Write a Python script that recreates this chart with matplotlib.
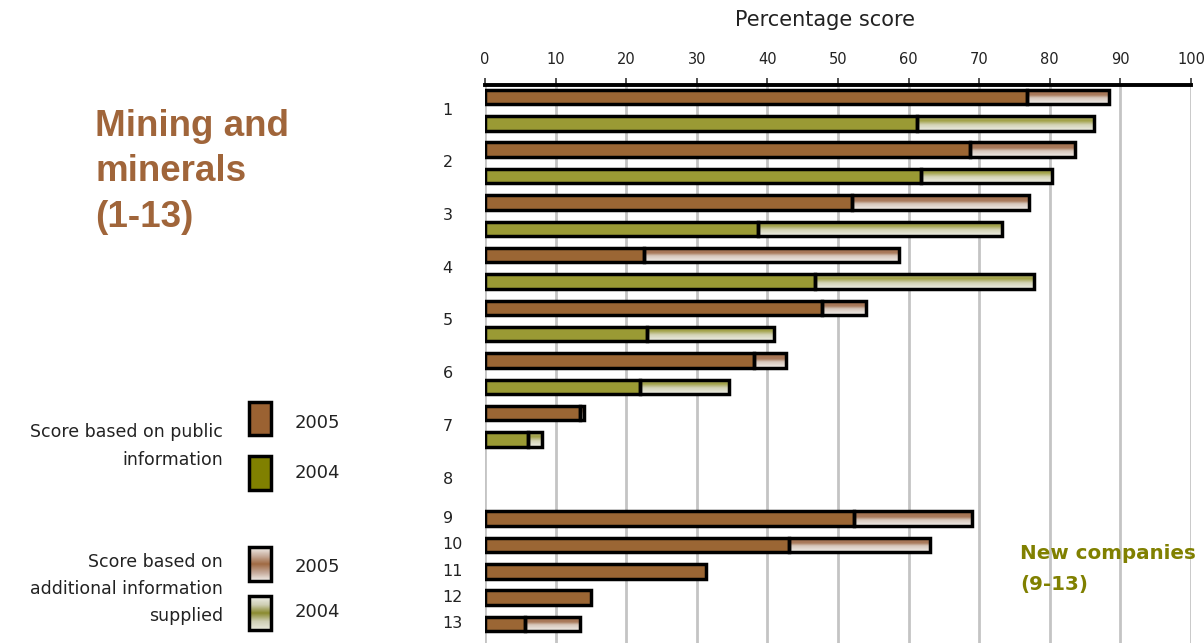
import numpy as np
import matplotlib
matplotlib.use("Agg")
import matplotlib.pyplot as plt
from matplotlib.patches import Rectangle
from matplotlib.colors import to_rgb

# Company numbers (1-8 scored in both years, 9-13 new in 2005)
companies = ["1", "2", "3", "4", "5", "6", "7", "8", "9", "10", "11", "12", "13"]
nan = np.nan

# 2005 scores: public information only, and total with additional information
public_2005 = [76.8, 68.7, 52.0, 22.5, 47.8, 38.1, 13.4, nan, 52.2, 43.0, 31.3, 15.0, 5.6]
total_2005 = [88.4, 83.6, 77.1, 58.7, 53.9, 42.6, 14.0, nan, 69.0, 63.1, 31.3, 15.0, 13.4]

# 2004 scores (only for companies 1-8)
public_2004 = [61.2, 61.7, 38.6, 46.7, 23.0, 21.9, 6.1, nan, nan, nan, nan, nan, nan]
total_2004 = [86.3, 80.3, 73.3, 77.7, 40.9, 34.5, 8.1, nan, nan, nan, nan, nan, nan]

x_ticks = list(range(0, 101, 10))

W, H = 1204, 643
fig = plt.figure(figsize=(W / 100, H / 100), dpi=100)

BROWN = "#9B6634"
GREEN = "#9A9A34"
EDGE_LW = 2.5


def gradient(stops, n=40):
    pos = np.array([s[0] for s in stops])
    cols = np.array([to_rgb(s[1]) for s in stops])
    t = np.linspace(0, 1, n)
    img = np.stack([np.interp(t, pos, cols[:, k]) for k in range(3)], axis=1)
    return img[:, None, :]


grad_bar_2005 = gradient([(0, "#A06C48"), (0.4, "#AA7C5E"), (0.58, "#D6C6BA"), (1, "#F2EEEA")])
grad_bar_2004 = gradient([(0, "#B4B478"), (0.3, "#A0A044"), (0.58, "#D2D2B4"), (1, "#F0F0E8")])
grad_key_2005 = gradient([(0, "#F2EEEA"), (0.25, "#C8AE9E"), (0.5, "#A06A42"), (0.75, "#C4A898"), (1, "#F2EEEA")])
grad_key_2004 = gradient([(0, "#F0F0EA"), (0.25, "#CFCFB5"), (0.5, "#8A8A2E"), (0.75, "#CFCFB5"), (1, "#EAEADD")])

# ---- main bar panel ----
px_row = 26.35
row0_px = 97
top_px = 85
x0_px, x100_px = 485, 1191
ax = fig.add_axes([x0_px / W, 0, (x100_px - x0_px) / W, 1 - top_px / H])

h = 0.55


def draw_bar(row, pub, tot, color, grad):
    if np.isnan(pub):
        return
    ax.add_patch(Rectangle((0, row - h / 2), pub, h, facecolor=color,
                           edgecolor="black", lw=EDGE_LW, zorder=3))
    if tot > pub:
        ax.imshow(grad, extent=(pub, tot, row + h / 2, row - h / 2), origin="upper",
                  aspect="auto", interpolation="bilinear", zorder=2.9)
        ax.add_patch(Rectangle((pub, row - h / 2), tot - pub, h, facecolor="none",
                               edgecolor="black", lw=EDGE_LW, zorder=3))


for i, name in enumerate(companies):
    if i < 8:
        r05, r04 = 2 * i, 2 * i + 1
        label_y = 2 * i + 0.5
    else:
        r05, r04 = 16 + (i - 8), None
        label_y = r05
    draw_bar(r05, public_2005[i], total_2005[i], BROWN, grad_bar_2005)
    if r04 is not None:
        draw_bar(r04, public_2004[i], total_2004[i], GREEN, grad_bar_2004)
    ax.text(-6.0, label_y, name, ha="left", va="center", fontsize=11.5,
            color="#222222", clip_on=False)

ax.set_xlim(0, 100)
ax.set_ylim((H - row0_px) / px_row, (top_px - row0_px) / px_row)
ax.xaxis.tick_top()
ax.set_xticks(x_ticks)
ax.set_xticklabels([str(t) for t in x_ticks])
ax.set_yticks([])
ax.tick_params(axis="x", direction="out", length=5, width=1.2, color="#333333",
               labelsize=10.5, pad=8, labelcolor="#222222")
ax.grid(axis="x", color="#C4C4C4", lw=2.0)
ax.set_axisbelow(True)
for side in ("left", "right", "bottom"):
    ax.spines[side].set_visible(False)
ax.spines["top"].set_linewidth(2.8)
ax.spines["top"].set_color("black")
ax.patch.set_visible(False)

fig.text(825 / W, 1 - 20 / H, "Percentage score", ha="center", va="center",
         fontsize=15, color="#222222")

# ---- titles and key, placed in pixel space ----
ov = fig.add_axes([0, 0, 1, 1])
ov.set_zorder(3)
ov.patch.set_visible(False)

title_kw = dict(fontsize=26.5, fontweight="bold", color="#A0653A",
                family="Liberation Sans", va="baseline", ha="left")
ov.text(95, 136, "Mining and", **title_kw)
ov.text(95, 181, "minerals", **title_kw)
ov.text(95, 227, "(1-13)", **title_kw)

new_kw = dict(fontsize=14.3, fontweight="bold", color="#808000", va="baseline", ha="left")
ov.text(1020, 559, "New companies", **new_kw)
ov.text(1020, 590, "(9-13)", **new_kw)

key_kw = dict(fontsize=12.5, color="#222222", ha="right", va="center")
ov.text(223, 432, "Score based on public", **key_kw)
ov.text(223, 460, "information", **key_kw)
ov.text(223, 562, "Score based on", **key_kw)
ov.text(223, 589, "additional information", **key_kw)
ov.text(223, 616, "supplied", **key_kw)

year_kw = dict(fontsize=13, color="#222222", ha="left", va="center")
ov.text(295, 423, "2005", **year_kw)
ov.text(295, 473, "2004", **year_kw)
ov.text(295, 567, "2005", **year_kw)
ov.text(295, 612, "2004", **year_kw)

sw_x, sw_w, sw_h = 249, 22, 34
ov.add_patch(Rectangle((sw_x, 402), sw_w, 33, facecolor="#9B6232", edgecolor="black", lw=EDGE_LW))
ov.add_patch(Rectangle((sw_x, 456), sw_w, sw_h, facecolor="#808000", edgecolor="black", lw=EDGE_LW))
for y_top, grad in ((547, grad_key_2005), (596, grad_key_2004)):
    ov.imshow(grad, extent=(sw_x, sw_x + sw_w, y_top + sw_h, y_top), origin="upper",
              aspect="auto", interpolation="bilinear", zorder=1)
    ov.add_patch(Rectangle((sw_x, y_top), sw_w, sw_h, facecolor="none",
                           edgecolor="black", lw=EDGE_LW, zorder=2))

ov.set_xlim(0, W)
ov.set_ylim(H, 0)
ov.axis("off")

fig.savefig("out.png", dpi=100, facecolor="white")
